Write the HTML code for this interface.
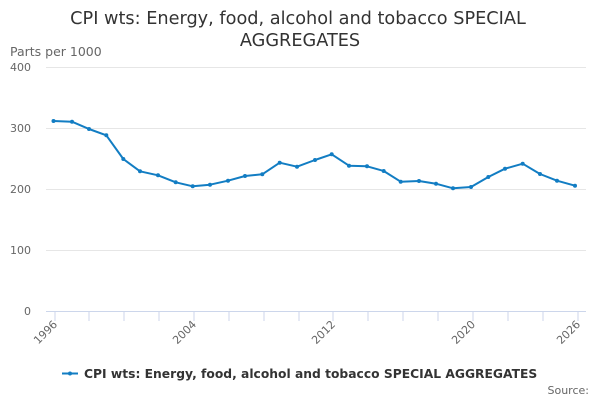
<!DOCTYPE html>
<html><head><meta charset="utf-8"><style>
html,body{margin:0;padding:0;background:#fff;}
svg{display:block;font-family:"DejaVu Sans","Liberation Sans",sans-serif;}
</style></head><body>
<svg width="600" height="400" viewBox="0 0 600 400" xmlns="http://www.w3.org/2000/svg">
<rect width="600" height="400" fill="#fff"/>
<text x="298" y="24" text-anchor="middle" font-size="17.7" fill="#333">CPI wts: Energy, food, alcohol and tobacco SPECIAL</text>
<text x="300" y="46" text-anchor="middle" font-size="17.7" fill="#333">AGGREGATES</text>
<text x="10" y="56" font-size="12.5" fill="#666">Parts per 1000</text>
<g stroke="#e6e6e6" stroke-width="1">
<line x1="46" y1="67.5" x2="586" y2="67.5"/>
<line x1="46" y1="128.5" x2="586" y2="128.5"/>
<line x1="46" y1="189.5" x2="586" y2="189.5"/>
<line x1="46" y1="250.5" x2="586" y2="250.5"/>
</g>
<line x1="46" y1="311.5" x2="586" y2="311.5" stroke="#ccd6eb" stroke-width="1"/>
<g stroke="#ccd6eb" stroke-width="1">
<line x1="55" y1="311" x2="55" y2="321"/><line x1="89" y1="311" x2="89" y2="321"/><line x1="124" y1="311" x2="124" y2="321"/><line x1="159" y1="311" x2="159" y2="321"/><line x1="194" y1="311" x2="194" y2="321"/><line x1="229" y1="311" x2="229" y2="321"/><line x1="264" y1="311" x2="264" y2="321"/><line x1="299" y1="311" x2="299" y2="321"/><line x1="333" y1="311" x2="333" y2="321"/><line x1="368" y1="311" x2="368" y2="321"/><line x1="403" y1="311" x2="403" y2="321"/><line x1="438" y1="311" x2="438" y2="321"/><line x1="473" y1="311" x2="473" y2="321"/><line x1="508" y1="311" x2="508" y2="321"/><line x1="543" y1="311" x2="543" y2="321"/><line x1="578" y1="311" x2="578" y2="321"/>
</g>
<g font-size="11" fill="#666" text-anchor="end">
<text x="31" y="71">400</text>
<text x="31" y="132">300</text>
<text x="31" y="193">200</text>
<text x="31" y="254">100</text>
<text x="31" y="315">0</text>
</g>
<g font-size="11" fill="#666" text-anchor="end">
<text x="58" y="325" transform="rotate(-45 58 325)">1996</text>
<text x="197" y="325" transform="rotate(-45 197 325)">2004</text>
<text x="336" y="325" transform="rotate(-45 336 325)">2012</text>
<text x="476" y="325" transform="rotate(-45 476 325)">2020</text>
<text x="581" y="325" transform="rotate(-45 581 325)">2026</text>
</g>
<polyline fill="none" stroke="#127dc3" stroke-width="2" stroke-linejoin="round" points="53.5,121 72,121.7 89,129 106.3,135.3 123.3,159 140,171.3 158,175.3 175.7,182.3 192.7,186.3 210,184.7 228,180.7 245,176 262.3,174.3 279.7,162.7 297,166.7 315,160 331.7,154.3 349,165.7 367,166.3 383.7,171 400.7,181.7 419,181 436,183.7 453,188.3 471,187 488.3,177 505,168.7 522.7,163.7 540,174 557,180.7 575,185.7"/>
<g fill="#127dc3">
<circle cx="53.5" cy="121" r="2"/><circle cx="72" cy="121.7" r="2"/><circle cx="89" cy="129" r="2"/><circle cx="106.3" cy="135.3" r="2"/><circle cx="123.3" cy="159" r="2"/><circle cx="140" cy="171.3" r="2"/><circle cx="158" cy="175.3" r="2"/><circle cx="175.7" cy="182.3" r="2"/><circle cx="192.7" cy="186.3" r="2"/><circle cx="210" cy="184.7" r="2"/><circle cx="228" cy="180.7" r="2"/><circle cx="245" cy="176" r="2"/><circle cx="262.3" cy="174.3" r="2"/><circle cx="279.7" cy="162.7" r="2"/><circle cx="297" cy="166.7" r="2"/><circle cx="315" cy="160" r="2"/><circle cx="331.7" cy="154.3" r="2"/><circle cx="349" cy="165.7" r="2"/><circle cx="367" cy="166.3" r="2"/><circle cx="383.7" cy="171" r="2"/><circle cx="400.7" cy="181.7" r="2"/><circle cx="419" cy="181" r="2"/><circle cx="436" cy="183.7" r="2"/><circle cx="453" cy="188.3" r="2"/><circle cx="471" cy="187" r="2"/><circle cx="488.3" cy="177" r="2"/><circle cx="505" cy="168.7" r="2"/><circle cx="522.7" cy="163.7" r="2"/><circle cx="540" cy="174" r="2"/><circle cx="557" cy="180.7" r="2"/><circle cx="575" cy="185.7" r="2"/>
</g>
<line x1="62" y1="373.5" x2="78" y2="373.5" stroke="#127dc3" stroke-width="2"/>
<circle cx="70" cy="373.5" r="2" fill="#127dc3"/>
<text x="84" y="378" font-size="12.3" font-weight="bold" fill="#333">CPI wts: Energy, food, alcohol and tobacco SPECIAL AGGREGATES</text>
<text x="589" y="394" text-anchor="end" font-size="11" fill="#666">Source:</text>
</svg>
</body></html>
